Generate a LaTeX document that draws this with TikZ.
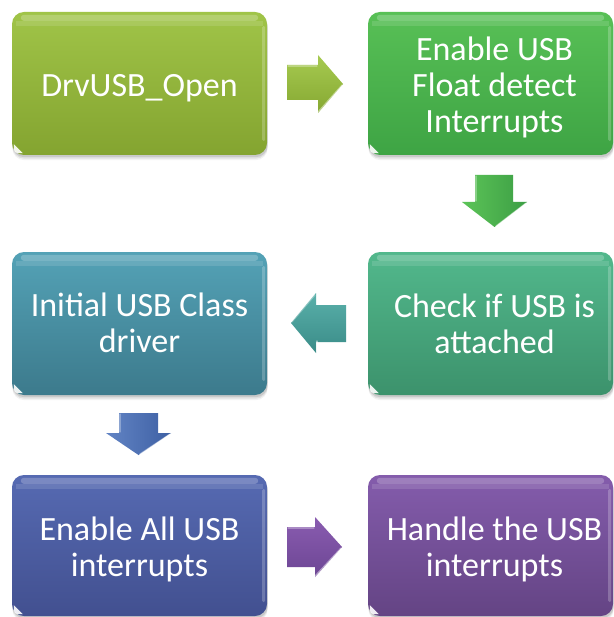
\documentclass[tikz,border=0pt]{standalone}
\usepackage{fontspec}
\setmainfont{Carlito}
\usetikzlibrary{calc}
\pgfdeclarelayer{bg}
\pgfdeclarelayer{shadow}
\pgfsetlayers{bg,shadow,main}
\definecolor{c1t}{RGB}{160,196,72}\definecolor{c1b}{RGB}{132,164,48}
\definecolor{c2t}{RGB}{88,192,86}\definecolor{c2b}{RGB}{62,164,68}
\definecolor{c3t}{RGB}{82,184,140}\definecolor{c3b}{RGB}{60,146,108}
\definecolor{c4t}{RGB}{84,162,182}\definecolor{c4b}{RGB}{60,122,140}
\definecolor{c5t}{RGB}{86,106,178}\definecolor{c5b}{RGB}{66,80,144}
\definecolor{c6t}{RGB}{132,92,172}\definecolor{c6b}{RGB}{100,68,132}
\definecolor{a1t}{RGB}{166,202,80}\definecolor{a1b}{RGB}{134,168,50}
\definecolor{a2t}{RGB}{92,196,88}\definecolor{a2b}{RGB}{60,158,68}
\definecolor{a3t}{RGB}{90,176,170}\definecolor{a3b}{RGB}{58,140,136}
\definecolor{a4t}{RGB}{98,132,196}\definecolor{a4b}{RGB}{62,96,164}
\definecolor{a5t}{RGB}{138,92,176}\definecolor{a5b}{RGB}{108,70,148}
\tikzset{
  box/.style={rounded corners=12pt, minimum width=255pt, minimum height=143pt,
    inner sep=0pt, draw=none},
  rbox/.style={box, minimum width=245pt},
  lbl/.style={text=white, font=\fontsize{34}{36}\selectfont, align=center, inner sep=0pt},
  shine/.style={white, opacity=0.45, line width=1.2pt, line cap=round},
}
\newcommand\boxdeco[1]{%
  \begin{pgfonlayer}{shadow}
    \foreach \sh/\op in {5/0.05,3.5/0.07,2/0.10}{
      \fill[black,opacity=\op,rounded corners=12pt]
        ($(#1.north west)+(0.5,\sh)$) rectangle ($(#1.south east)+(0.5,\sh)$);}
  \end{pgfonlayer}
  \fill[white,opacity=0.22,rounded corners=3pt]
    ($(#1.north west)+(9,3)$) rectangle ($(#1.north east)+(-9,9)$);
  \fill[white,opacity=0.12]
    ($(#1.north west)+(4,9)$) rectangle ($(#1.north east)+(-4,14)$);
  \fill[white,opacity=0.22,rounded corners=1.5pt]
    ($(#1.north east)+(-5,14)$) rectangle ($(#1.south east)+(-2,-14)$);
  \fill[white,opacity=0.9] ($(#1.south west)+(2,-11)$)
    .. controls ($(#1.south west)+(2,-2)$) .. ($(#1.south west)+(11,-2)$)
    .. controls ($(#1.south west)+(6,-6)$) .. cycle;
}
\begin{document}
\begin{tikzpicture}[x=1pt,y=-1pt]
\begin{pgfonlayer}{bg}
  \fill[white] (0,0) rectangle (613,617);
\end{pgfonlayer}
\useasboundingbox (0,0) rectangle (613,617);

% boxes
\node[box, top color=c1t, bottom color=c1b] (b1) at (139.5,83.5) {};
\node[rbox, top color=c2t, bottom color=c2b] (b2) at (490.5,83.5) {};
\node[rbox, top color=c3t, bottom color=c3b] (b3) at (490.5,323.5) {};
\node[box, top color=c4t, bottom color=c4b] (b4) at (139.5,323.5) {};
\node[box, minimum height=141pt, top color=c5t, bottom color=c5b] (b5) at (139.5,545.5) {};
\node[rbox, minimum height=141pt, top color=c6t, bottom color=c6b] (b6) at (490.5,545.5) {};

\boxdeco{b1}\boxdeco{b2}\boxdeco{b3}\boxdeco{b4}\boxdeco{b5}\boxdeco{b6}

% texts
\node[lbl] (t1) at ($(b1.center)+(0,4.5)$) {DrvUSB\_Open};
\node[lbl] (t2) at ($(b2.center)+(4,3.5)$) {Enable USB\\Float detect\\Interrupts};
\node[lbl] (t3) at ($(b3.center)+(4,0)$) {Check if USB is\\attached};
\node[lbl] (t4) at ($(b4.center)+(0,-0.5)$) {Initial USB Class\\driver};
\node[lbl] (t5) at ($(b5.center)+(0,4)$) {Enable All USB\\interrupts};
\node[lbl] (t6) at ($(b6.center)+(4,4)$) {Handle the USB\\interrupts};

% block arrows
% b1 -> b2
\shade[top color=a1t, bottom color=a1b]
  (287,65) -- (318,65) -- (318,55) -- (343,84) -- (318,113) -- (318,100) -- (287,100) -- cycle;
\draw[shine] (318,112) -- (342,85);
\draw[shine, opacity=0.3] (288,66) -- (317,66);
% b2 -> b3
\shade[left color=a2t, right color=a2b]
  (475,175) -- (513,175) -- (513,202) -- (527,202) -- (494.5,227) -- (462,202) -- (475,202) -- cycle;
\draw[shine] (496,226) -- (526,203);
\draw[shine, opacity=0.3] (476,176) -- (476,201);
% b3 -> b4
\shade[top color=a3t, bottom color=a3b]
  (346,305) -- (316,305) -- (316,293) -- (291,323) -- (316,353) -- (316,342) -- (346,342) -- cycle;
\draw[shine, opacity=0.3] (292,322) -- (315,295);
\draw[shine] (317,341) -- (317,351);
% b4 -> b5
\shade[left color=a4t, right color=a4b]
  (119,413) -- (158,413) -- (158,433) -- (171,433) -- (138.5,455) -- (106,433) -- (119,433) -- cycle;
\draw[shine] (140,454) -- (170,434);
\draw[shine, opacity=0.3] (120,414) -- (120,432);
% b5 -> b6
\shade[top color=a5t, bottom color=a5b]
  (287,527) -- (315,527) -- (315,517) -- (342,547) -- (315,577) -- (315,567) -- (287,567) -- cycle;
\draw[shine] (315,576) -- (341,548);
\draw[shine, opacity=0.3] (288,528) -- (314,528);
\end{tikzpicture}
\end{document}
